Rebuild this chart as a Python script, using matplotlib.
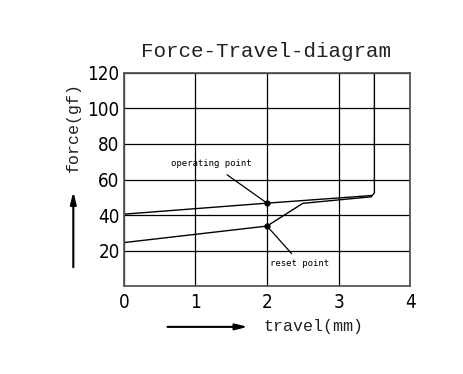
import matplotlib.pyplot as plt
from matplotlib.patches import FancyArrowPatch

# data
x_ticks = [0, 1, 2, 3, 4]
y_ticks = [20, 40, 60, 80, 100, 120]

# pressing stroke (upper line)
press_x = [0, 0, 2.0, 3.47, 3.5, 3.5]
press_y = [0, 40.5, 46.7, 51.0, 52.5, 120]
# release stroke (lower line)
release_x = [0, 0, 2.0, 2.5, 3.46]
release_y = [0, 24.5, 33.8, 46.6, 50.3]

operating_pt = (2.0, 46.7)
reset_pt = (2.0, 33.8)

fig = plt.figure(figsize=(4.64, 3.74), dpi=100)
ax = fig.add_axes([0.267, 0.235, 0.617, 0.570])

ax.plot(press_x, press_y, color='black', lw=1.0)
ax.plot(release_x, release_y, color='black', lw=1.0)
ax.plot(*operating_pt, 'o', color='black', ms=3.5)
ax.plot(*reset_pt, 'o', color='black', ms=3.5)

ax.set_xlim(0, 4)
ax.set_ylim(0, 120)
ax.set_xticks(x_ticks)
ax.set_yticks(y_ticks)
ax.grid(True, color='black', lw=0.9)
ax.tick_params(length=0, labelsize=13.5)
ax.tick_params(axis='y', pad=3)
ax.tick_params(axis='x', pad=5)
for lab in ax.get_xticklabels() + ax.get_yticklabels():
    lab.set_family('DejaVu Sans')
    lab.set_stretch('condensed')
for s in ax.spines.values():
    s.set_color('#555555')
    s.set_linewidth(1.3)

# annotations
ax.annotate('operating point', xy=operating_pt, xytext=(1.22, 69),
            fontsize=6.5, family='DejaVu Sans Mono', ha='center', va='center',
            arrowprops=dict(arrowstyle='-', color='black', lw=0.9,
                            shrinkA=5, shrinkB=0))
ax.annotate('reset point', xy=reset_pt, xytext=(2.46, 13),
            fontsize=6.5, family='DejaVu Sans Mono', ha='center', va='center',
            arrowprops=dict(arrowstyle='-', color='black', lw=0.9,
                            shrinkA=2, shrinkB=0))

fig.text(0.573, 0.862, 'Force-Travel-diagram', fontsize=15,
         family='Liberation Mono', ha='center', va='center', color='#222222')
fig.text(0.158, 0.66, 'force(gf)', fontsize=12, family='Liberation Mono',
         rotation=90, ha='center', va='center', color='#222222')
fig.text(0.676, 0.127, 'travel(mm)', fontsize=12, family='Liberation Mono',
         ha='center', va='center', color='#222222')

# direction arrows
fig.patches.append(FancyArrowPatch(
    (0.355, 0.126), (0.54, 0.126), transform=fig.transFigure,
    arrowstyle='-|>,head_length=0.6,head_width=0.15', color='black', lw=1.5,
    mutation_scale=12))
fig.patches.append(FancyArrowPatch(
    (0.158, 0.278), (0.158, 0.495), transform=fig.transFigure,
    arrowstyle='-|>,head_length=0.6,head_width=0.15', color='black', lw=1.5,
    mutation_scale=12))

fig.savefig('out.png', dpi=100)
